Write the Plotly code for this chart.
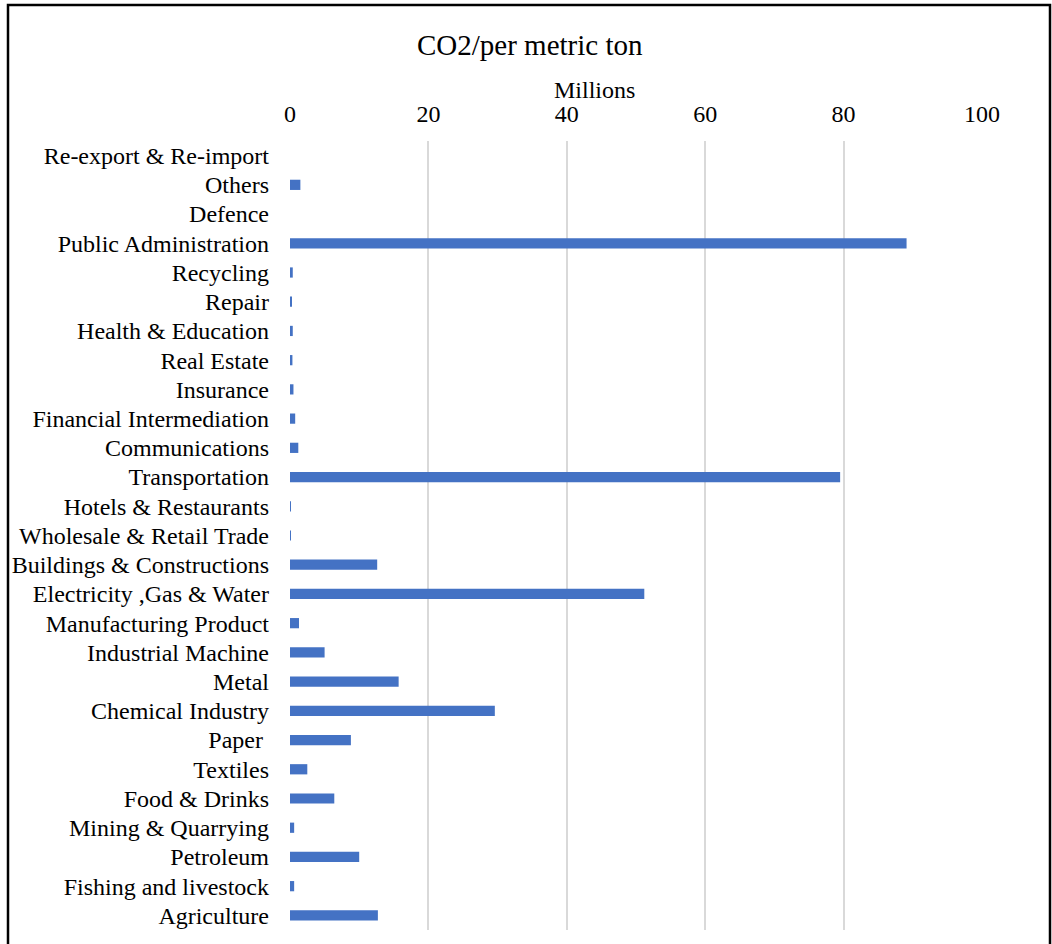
import plotly.graph_objects as go

categories = [
    "Agriculture", "Fishing and livestock", "Petroleum", "Mining & Quarrying",
    "Food & Drinks", "Textiles", "Paper ", "Chemical Industry", "Metal",
    "Industrial Machine", "Manufacturing Product", "Electricity ,Gas & Water",
    "Buildings & Constructions", "Wholesale & Retail Trade", "Hotels & Restaurants",
    "Transportation", "Communications", "Financial Intermediation", "Insurance",
    "Real Estate", "Health & Education", "Repair", "Recycling",
    "Public Administration", "Defence", "Others", "Re-export & Re-import",
]
values_millions = [
    12.7, 0.6, 10.0, 0.6,
    6.4, 2.5, 8.8, 29.6, 15.7,
    5.0, 1.3, 51.2,
    12.6, 0.1, 0.1,
    79.5, 1.2, 0.75, 0.5,
    0.35, 0.4, 0.2, 0.4,
    89.1, 0.0, 1.5, 0.0,
]
x_ticks = [0, 20, 40, 60, 80, 100]

W, H = 1052, 944
L, R, T, B = 290, 70, 141, 14
pw, ph = W - L - R, H - T - B

def px(x):
    return (x - L) / pw

def py(y):
    return (H - B - y) / ph

font_family = "Liberation Serif, Times New Roman, serif"

fig = go.Figure(go.Bar(
    x=values_millions, y=categories, orientation="h",
    marker=dict(color="#4472C4", line=dict(width=0)),
    width=0.35,
))

fig.update_layout(
    width=W, height=H,
    margin=dict(l=L, r=R, t=T, b=B),
    paper_bgcolor="white", plot_bgcolor="white",
    font=dict(family=font_family, color="black"),
    showlegend=False,
    bargap=0.65,
    xaxis=dict(
        side="top", range=[0, 100], tickvals=x_ticks,
        showgrid=True, gridcolor="#d9d9d9", gridwidth=2,
        zeroline=False, showline=False, ticks="",
        tickfont=dict(size=24, family=font_family, color="black"),
        ticklabelstandoff=13,
    ),
    yaxis=dict(
        type="category", categoryorder="array", categoryarray=categories,
        showgrid=False, zeroline=False, showline=False, ticks="",
        tickfont=dict(size=24, family=font_family, color="black"),
        ticklabelstandoff=20,
        range=[-0.5, len(categories) - 0.5],
    ),
    annotations=[
        dict(text="CO2/per metric ton", x=px(530), y=py(45), xref="paper", yref="paper",
             showarrow=False, xanchor="center", yanchor="middle",
             font=dict(size=29, family=font_family, color="black")),
        dict(text="Millions", x=px(594), y=py(90), xref="paper", yref="paper",
             showarrow=False, xanchor="center", yanchor="middle",
             font=dict(size=24, family=font_family, color="black")),
    ],
    shapes=[
        dict(type="rect", xref="paper", yref="paper",
             x0=px(8), x1=px(1050), y0=py(955), y1=py(5),
             line=dict(color="black", width=2.5), fillcolor="rgba(0,0,0,0)", layer="above"),
    ],
)

fig.write_html("out.html")
